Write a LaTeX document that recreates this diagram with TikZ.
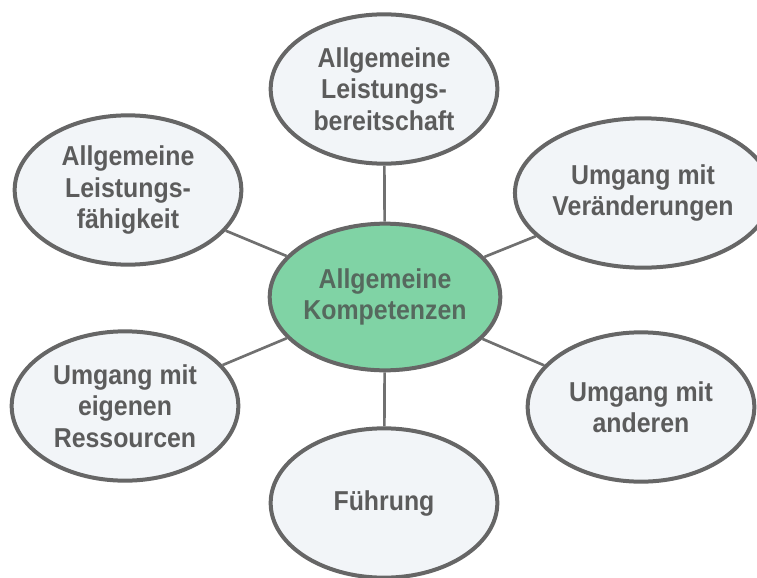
\documentclass[tikz,border=0pt]{standalone}
\usepackage{fontspec}
\setmainfont{Liberation Sans}[FakeStretch=0.91]
\usepackage{tikz}
\usetikzlibrary{shapes.geometric}
\definecolor{RingGray}{HTML}{666666}
\definecolor{LinkGray}{HTML}{707070}
\definecolor{TextGray}{HTML}{5C5C5C}
\definecolor{CoreText}{HTML}{56695E}
\definecolor{PaleFill}{HTML}{F2F5F8}
\definecolor{CoreGreen}{HTML}{80D3A5}

\begin{document}
\begin{tikzpicture}[
  x=0.75pt, y=-0.75pt,
  font=\fontsize{20.5}{23.5}\selectfont\bfseries,
  % outer competence ellipse
  komp/.style={ellipse, draw=RingGray, line width=3pt, fill=PaleFill,
               text=TextGray, align=center, inner sep=0pt,
               minimum width=170pt, minimum height=112pt},
  % central ellipse
  kern/.style={komp, fill=CoreGreen, text=CoreText,
               minimum width=158pt, minimum height=110pt},
  % spoke
  link/.style={draw=LinkGray, line width=2pt},
]
\useasboundingbox (0,0) rectangle (757,578);

%% -- Centre ---------------------------------------------------------------
\node[kern] (kompetenz) at (385,297) {Allgemeine\\Kompetenzen};

%% -- Ring of competences --------------------------------------------------
\node[komp] (bereitschaft) at (384,89)  {Allgemeine\\Leistungs-\\bereitschaft};
\node[komp] (faehigkeit)   at (128,190) {Allgemeine\\Leistungs-\\fähigkeit};
\node[komp, minimum width=163pt] (veraenderung) at (643,193)
  {Umgang mit\\Veränderungen};
\node[komp] (ressourcen)   at (125,406) {Umgang mit\\eigenen\\Ressourcen};
\node[komp] (andere)       at (641,407) {Umgang mit\\anderen};
\node[komp] (fuehrung)     at (384,503) {Führung};

%% -- Spokes ---------------------------------------------------------------
\foreach \n in {bereitschaft,faehigkeit,veraenderung,ressourcen,andere,fuehrung}{
  \draw[link] (kompetenz) -- (\n);
}

\end{tikzpicture}
\end{document}
